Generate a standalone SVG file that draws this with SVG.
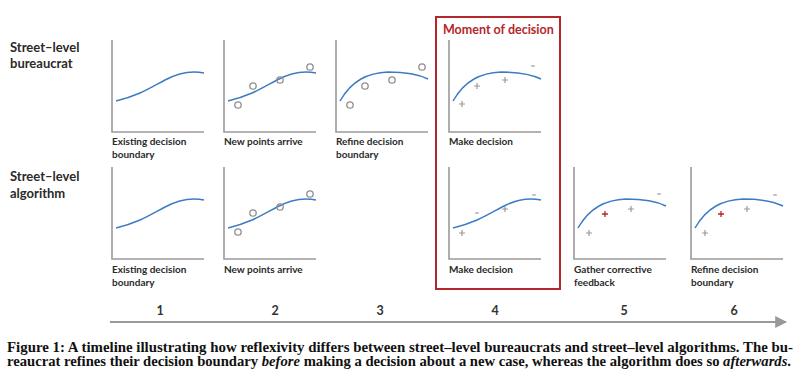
<svg xmlns="http://www.w3.org/2000/svg" width="800" height="389" viewBox="0 0 800 389">
<style>
.ax{fill:none;stroke:#9a9a9a;stroke-width:1.6}
.cv{fill:none;stroke:#3d7cc4;stroke-width:1.5}
.pt{fill:none;stroke:#8f8f8f;stroke-width:1.3}
.pl{fill:none;stroke:#999;stroke-width:1.2}
.rp{fill:none;stroke:#b5262b;stroke-width:1.3}
.lb{font-family:Lato,"Open Sans",sans-serif;font-size:10px;font-weight:bold;fill:#2a2a2a}
.rl{font-family:Lato,"Open Sans",sans-serif;font-size:13px;font-weight:bold;fill:#2a2a2a}
.num{font-family:Lato,"Open Sans",sans-serif;font-size:12.5px;font-weight:bold;fill:#333;text-anchor:middle}
.cap{font-family:"Liberation Serif",serif;font-size:14px;font-weight:bold;fill:#111}
</style>
<defs>
<path id="axes" d="M0,0 V92 H92" class="ax"/>
<path id="sc" d="M4,61 C28,55 38,48 53,40 C66,33 78,30 92,33" class="cv"/>
<path id="bc" d="M4,61 C16,40 32,33 52,32 C69,32 82,34 92,39" class="cv"/>
<g id="circs" class="pt"><circle cx="14" cy="65" r="3.2"/><circle cx="29" cy="46" r="3.2"/><circle cx="56" cy="40" r="3.2"/><circle cx="86" cy="27" r="3.2"/></g>
<path id="plus" d="M-3,0 H3 M0,-3 V3"/>
<path id="minus" d="M-1.8,0 H1.8"/>
<marker id="arr" viewBox="0 0 10 10" refX="9" refY="5" markerWidth="6" markerHeight="6" orient="auto" markerUnits="strokeWidth"><path d="M0,0 L10,5 L0,10 Z" fill="#999"/></marker>
</defs>

<g id="row-labels">
<text class="rl" x="10" y="52">Street–level</text>
<text class="rl" x="10" y="68">bureaucrat</text>
<text class="rl" x="10" y="181">Street–level</text>
<text class="rl" x="10" y="198">algorithm</text>
</g>

<g id="decision-box">
<rect x="436" y="17" width="124" height="272" fill="none" stroke="#b5262b" stroke-width="2"/>
<text x="443" y="34" font-family="Lato,'Open Sans',sans-serif" font-size="12.5" font-weight="bold" fill="#b5262b">Moment of decision</text>
</g>

<g id="b1" transform="translate(112,40)">
<use href="#axes"/><use href="#sc"/>
<text class="lb" x="0" y="105">Existing decision</text><text class="lb" x="0" y="118">boundary</text>
</g>
<g id="b2" transform="translate(224,40)">
<use href="#axes"/><use href="#sc"/><use href="#circs"/>
<text class="lb" x="0" y="105">New points arrive</text>
</g>
<g id="b3" transform="translate(336,40)">
<use href="#axes"/><use href="#bc"/><use href="#circs"/>
<text class="lb" x="0" y="105">Refine decision</text><text class="lb" x="0" y="118">boundary</text>
</g>
<g id="b4" transform="translate(449,40)">
<use href="#axes"/><use href="#bc"/>
<use href="#plus" class="pl" x="13" y="64"/><use href="#plus" class="pl" x="28" y="46"/><use href="#plus" class="pl" x="56" y="40"/><use href="#minus" class="pl" x="84" y="26"/>
<text class="lb" x="0" y="105">Make decision</text>
</g>

<g id="a1" transform="translate(112,167)">
<use href="#axes"/><use href="#sc"/>
<text class="lb" x="0" y="106">Existing decision</text><text class="lb" x="0" y="119">boundary</text>
</g>
<g id="a2" transform="translate(224,167)">
<use href="#axes"/><use href="#sc"/><use href="#circs"/>
<text class="lb" x="0" y="106">New points arrive</text>
</g>
<g id="a4" transform="translate(449,167)">
<use href="#axes"/><use href="#sc"/>
<use href="#plus" class="pl" x="13" y="66"/><use href="#minus" class="pl" x="28" y="46"/><use href="#plus" class="pl" x="56" y="42"/><use href="#minus" class="pl" x="85" y="28"/>
<text class="lb" x="0" y="106">Make decision</text>
</g>
<g id="a5" transform="translate(574,167)">
<use href="#axes"/><use href="#bc"/>
<use href="#plus" class="pl" x="15" y="66"/><use href="#plus" class="rp" x="31" y="47"/><use href="#plus" class="pl" x="57" y="42"/><use href="#minus" class="pl" x="85" y="27"/>
<text class="lb" x="0" y="106">Gather corrective</text><text class="lb" x="0" y="119">feedback</text>
</g>
<g id="a6" transform="translate(691,167)">
<use href="#axes"/><use href="#bc"/>
<use href="#plus" class="pl" x="14" y="66"/><use href="#plus" class="rp" x="30" y="47"/><use href="#plus" class="pl" x="56" y="42"/><use href="#minus" class="pl" x="84" y="28"/>
<text class="lb" x="0" y="106">Refine decision</text><text class="lb" x="0" y="119">boundary</text>
</g>

<g id="timeline">
<line x1="110" y1="322" x2="786" y2="322" stroke="#999" stroke-width="2" marker-end="url(#arr)"/>
<text class="num" x="160" y="315">1</text>
<text class="num" x="275" y="315">2</text>
<text class="num" x="380" y="315">3</text>
<text class="num" x="495" y="315">4</text>
<text class="num" x="624" y="315">5</text>
<text class="num" x="734" y="315">6</text>
</g>

<g id="caption">
<text class="cap" x="7" y="352" textLength="786" lengthAdjust="spacingAndGlyphs">Figure 1: A timeline illustrating how reflexivity differs between street–level bureaucrats and street–level algorithms. The bu-</text>
<text class="cap" x="7" y="366" textLength="784" lengthAdjust="spacingAndGlyphs">reaucrat refines their decision boundary <tspan font-style="italic">before</tspan> making a decision about a new case, whereas the algorithm does so <tspan font-style="italic">afterwards</tspan>.</text>
</g>
</svg>
